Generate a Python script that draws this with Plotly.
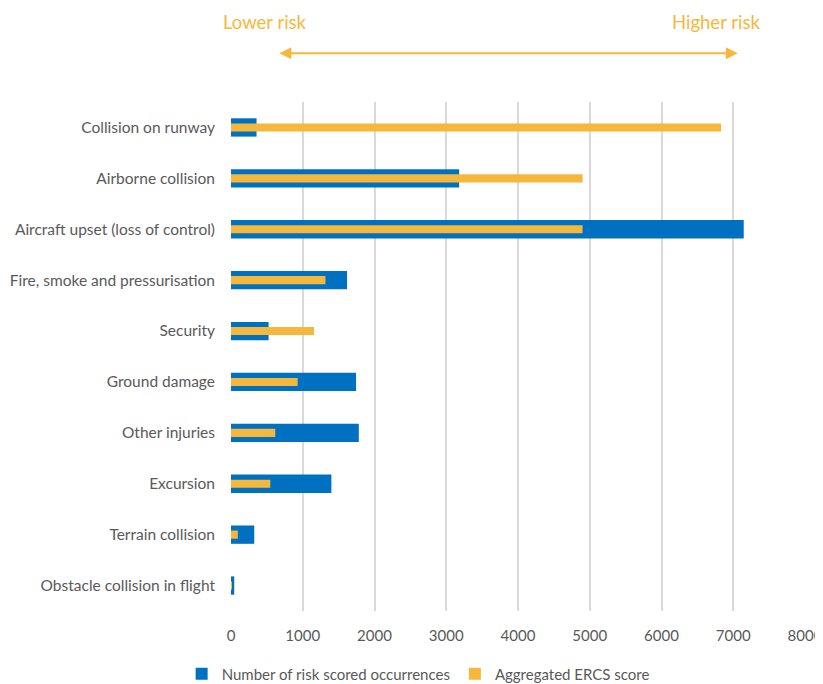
import plotly.graph_objects as go

categories = [
    "Collision on runway",
    "Airborne collision",
    "Aircraft upset (loss of control)",
    "Fire, smoke and pressurisation",
    "Security",
    "Ground damage",
    "Other injuries",
    "Excursion",
    "Terrain collision",
    "Obstacle collision in flight",
]
occurrences = [356, 3180, 7146, 1617, 524, 1743, 1781, 1399, 324, 45]
ercs_score = [6830, 4900, 4900, 1316, 1157, 929, 617, 547, 95, 8]
x_ticks = [0, 1000, 2000, 3000, 4000, 5000, 6000, 7000, 8000]

BLUE = "#0070C0"
ORANGE = "#F5B83D"
GRAY = "#595959"
FONT = "Lato"

fig = go.Figure()
fig.add_trace(go.Bar(
    y=categories, x=occurrences, orientation="h",
    name="Number of risk scored occurrences",
    marker=dict(color=BLUE, line=dict(width=0)), width=0.36,
))
fig.add_trace(go.Bar(
    y=categories, x=ercs_score, orientation="h",
    name="Aggregated ERCS score",
    marker=dict(color=ORANGE, line=dict(width=0)), width=0.16,
))

fig.update_layout(
    width=815, height=676,
    barmode="overlay",
    plot_bgcolor="white", paper_bgcolor="white",
    margin=dict(l=223, r=18, t=94, b=73, autoexpand=False),
    font=dict(family=FONT, color=GRAY, size=15),
    xaxis=dict(
        range=[0, 8000], tickvals=x_ticks, ticktext=[str(v) for v in x_ticks],
        showgrid=True, gridcolor="#D9D9D9", gridwidth=1.5,
        zeroline=False, showline=False, automargin=False,
        tickfont=dict(size=15, color=GRAY),
        ticks="", ticklabelstandoff=14,
    ),
    yaxis=dict(
        autorange="reversed", showgrid=False, zeroline=False, showline=False,
        automargin=False,
        tickfont=dict(size=15.5, color=GRAY), ticks="", ticklabelstandoff=15,
    ),
    legend=dict(
        orientation="h", x=-0.086, xanchor="left",
        y=-0.124, yanchor="middle",
        font=dict(size=15, color=GRAY), traceorder="normal",
        itemwidth=30, itemsizing="constant",
    ),
    showlegend=True,
)

fig.add_annotation(text="Lower risk", xref="paper", yref="paper",
                   x=0.059, y=1.157, xanchor="center", yanchor="middle",
                   showarrow=False,
                   font=dict(size=18.5, color=ORANGE, family=FONT))
fig.add_annotation(text="Higher risk", xref="paper", yref="paper",
                   x=0.845, y=1.157, xanchor="center", yanchor="middle",
                   showarrow=False,
                   font=dict(size=18.5, color=ORANGE, family=FONT))
fig.add_annotation(text="", xref="paper", yref="paper",
                   x=0.883, y=1.096, ax=-460, ay=0,
                   showarrow=True, arrowside="end+start", arrowhead=2,
                   arrowsize=1.2, arrowwidth=2, arrowcolor=ORANGE)

fig.write_html("out.html")
